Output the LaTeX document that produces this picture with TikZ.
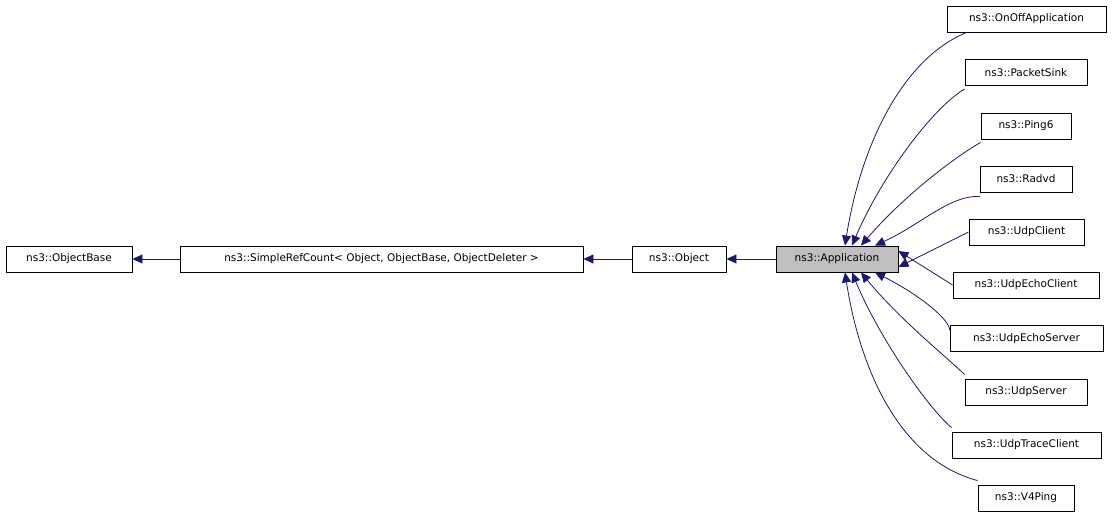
\documentclass[tikz,border=0pt]{standalone}
\usepackage{fontspec}
\setmainfont{DejaVu Sans}
\usetikzlibrary{arrows.meta}
\definecolor{navy}{HTML}{191970}
\tikzset{
  box/.style={draw=black,fill=white,line width=0.9pt,inner sep=0pt,minimum height=26pt,font=\fontsize{10.5}{12}\selectfont},
  edge/.style={{Triangle[length=10pt,width=9pt]}-,draw=navy,line width=0.8pt},
}
\begin{document}
\begin{tikzpicture}[x=1pt,y=-1pt]
\useasboundingbox (0,0) rectangle (1112,520);
\node[box,minimum width=126pt] (ob) at (69,259) {ns3::ObjectBase};
\node[box,minimum width=403pt] (src) at (381.5,259) {ns3::SimpleRefCount< Object, ObjectBase, ObjectDeleter >};
\node[box,minimum width=94pt] (obj) at (679,259) {ns3::Object};
\node[box,minimum width=122pt,fill={rgb,255:red,191;green,191;blue,191}] (app) at (837,259) {ns3::Application};
\node[box,minimum width=159pt] (c1) at (1026.5,19) {ns3::OnOffApplication};
\node[box,minimum width=122pt] (c2) at (1026,72.5) {ns3::PacketSink};
\node[box,minimum width=90pt] (c3) at (1026,126) {ns3::Ping6};
\node[box,minimum width=92pt] (c4) at (1026,179) {ns3::Radvd};
\node[box,minimum width=115pt] (c5) at (1026.5,232) {ns3::UdpClient};
\node[box,minimum width=146pt] (c6) at (1026,285) {ns3::UdpEchoClient};
\node[box,minimum width=153pt] (c7) at (1026.5,338.5) {ns3::UdpEchoServer};
\node[box,minimum width=122pt] (c8) at (1026,392) {ns3::UdpServer};
\node[box,minimum width=149pt] (c9) at (1026.5,445) {ns3::UdpTraceClient};
\node[box,minimum width=96pt] (c10) at (1026,498) {ns3::V4Ping};
\draw[edge] (ob) -- (src);
\draw[edge] (src) -- (obj);
\draw[edge] (obj) -- (app);
\draw[edge] ([xshift=8pt]app.north) .. controls (860,150) and (900,60) .. ([xshift=20pt]c1.south west);
\draw[edge] ([xshift=15pt]app.north) .. controls (880,180) and (930,110) .. ([yshift=-3pt]c2.south west);
\draw[edge] ([xshift=24pt]app.north) .. controls (900,200) and (950,160) .. ([yshift=-3pt]c3.south west);
\draw[edge] ([xshift=38pt]app.north) .. controls (920,225) and (950,195) .. ([yshift=-4pt]c4.south west);
\draw[edge] ([yshift=-8pt]app.east) -- (c5.west);
\draw[edge] ([yshift=8pt]app.east) -- (c6.west);
\draw[edge] ([xshift=38pt]app.south) .. controls (920,295) and (950,320) .. ([yshift=-5pt]c7.north west);
\draw[edge] ([xshift=24pt]app.south) .. controls (900,320) and (950,360) .. ([yshift=4pt]c8.north west);
\draw[edge] ([xshift=15pt]app.south) .. controls (880,340) and (930,410) .. ([yshift=4pt]c9.north west);
\draw[edge] ([xshift=8pt]app.south) .. controls (860,370) and (900,460) .. ([yshift=4pt]c10.north west);
\end{tikzpicture}
\end{document}
